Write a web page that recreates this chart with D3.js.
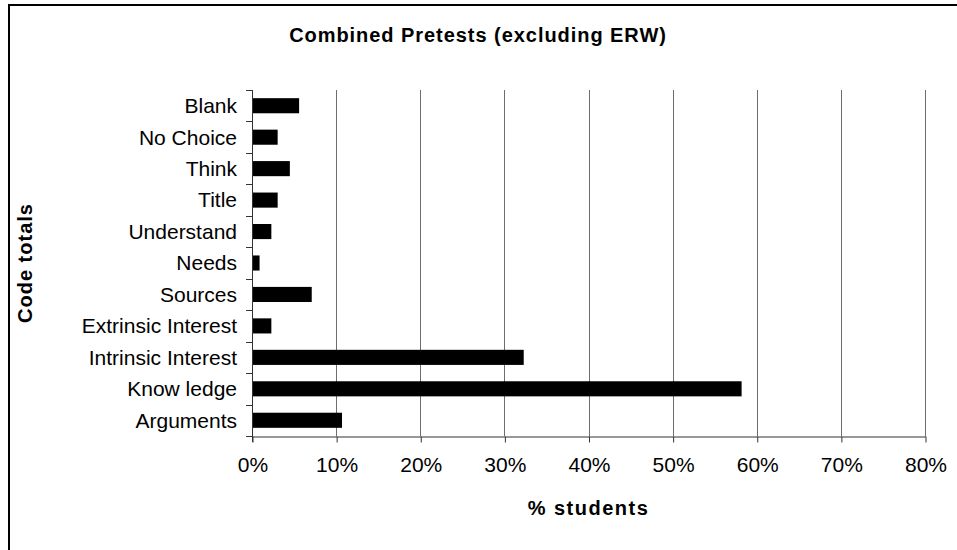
<!DOCTYPE html>
<html>
<head>
<meta charset="utf-8">
<script src="https://cdn.jsdelivr.net/npm/d3@7"></script>
<style>
  html, body { margin: 0; padding: 0; background: #fff; }
  svg { display: block; font-family: "Liberation Sans", Arial, sans-serif; }
</style>
</head>
<body>
<svg id="chart" width="957" height="550"></svg>
<script>
const categories = ["Blank", "No Choice", "Think", "Title", "Understand", "Needs",
  "Sources", "Extrinsic Interest", "Intrinsic Interest", "Know ledge", "Arguments"];
const values = [5.6, 3.05, 4.5, 3.05, 2.3, 0.9, 7.1, 2.3, 32.3, 58.2, 10.7];
const xTicks = [0, 10, 20, 30, 40, 50, 60, 70, 80];
const titleText = "Combined Pretests (excluding ERW)";
const xTitle = "% students";
const yTitle = "Code totals";

const svg = d3.select("#chart");
const m = { left: 252, right: 925, top: 90, bottom: 436 };

// outer frame
svg.append("rect")
  .attr("x", 9).attr("y", 5).attr("width", 960).attr("height", 560)
  .attr("fill", "none").attr("stroke", "#000").attr("stroke-width", 2);

const x = d3.scaleLinear().domain([0, 80]).range([m.left, m.right]);
const y = d3.scaleBand().domain(categories).range([m.top, m.bottom]).paddingInner(0.52).paddingOuter(0.26);

// gridlines
svg.append("g").selectAll("line")
  .data(xTicks.filter(d => d > 0))
  .join("line")
  .attr("x1", d => Math.round(x(d)) + 0.5).attr("x2", d => Math.round(x(d)) + 0.5)
  .attr("y1", m.top).attr("y2", m.bottom)
  .attr("stroke", "#6e6e6e").attr("stroke-width", 1);

// bars
svg.append("g").selectAll("rect")
  .data(categories.map((c, i) => ({ c, v: values[i] })))
  .join("rect")
  .attr("x", m.left)
  .attr("y", d => y(d.c))
  .attr("width", d => x(d.v) - m.left)
  .attr("height", y.bandwidth())
  .attr("fill", "#000");

// x axis
const xAxis = d3.axisBottom(x).tickValues(xTicks).tickFormat(d => d + "%").tickSize(6).tickSizeOuter(0).tickPadding(15);
const gx = svg.append("g").attr("transform", `translate(0.5,${m.bottom + 0.5})`).call(xAxis);
gx.select(".domain").attr("stroke", "#333");
gx.selectAll(".tick line").attr("stroke", "#333");
gx.selectAll("text").attr("font-size", 21).attr("fill", "#000")
  .attr("font-family", "Liberation Sans, Arial, sans-serif");

// y axis with ticks at band boundaries
const boundaries = categories.map(c => y(c) - y.step() * y.paddingInner() / 2).concat([m.bottom]);
const gy = svg.append("g");
gy.append("line").attr("x1", m.left + 0.5).attr("x2", m.left + 0.5)
  .attr("y1", m.top).attr("y2", m.bottom + 6).attr("stroke", "#333");
gy.selectAll("line.tk").data(boundaries).join("line").attr("class", "tk")
  .attr("x1", m.left - 6).attr("x2", m.left)
  .attr("y1", d => Math.round(d) + 0.5).attr("y2", d => Math.round(d) + 0.5)
  .attr("stroke", "#333");
gy.selectAll("text").data(categories).join("text")
  .attr("x", m.left - 15)
  .attr("y", d => y(d) + y.bandwidth() / 2)
  .attr("dy", "0.35em")
  .attr("text-anchor", "end")
  .attr("font-size", 21)
  .text(d => d);

// title
svg.append("text").attr("x", 478).attr("y", 42).attr("text-anchor", "middle")
  .attr("font-size", 20).attr("font-weight", "bold").attr("letter-spacing", 0.95)
  .text(titleText);

// x title
svg.append("text").attr("x", (m.left + m.right) / 2).attr("y", 515).attr("text-anchor", "middle")
  .attr("font-size", 20).attr("font-weight", "bold").attr("letter-spacing", 1.5)
  .text(xTitle);

// y title
svg.append("text").attr("transform", `translate(32,${(m.top + m.bottom) / 2}) rotate(-90)`)
  .attr("text-anchor", "middle")
  .attr("font-size", 20).attr("font-weight", "bold").attr("letter-spacing", 1)
  .text(yTitle);
</script>
</body>
</html>
